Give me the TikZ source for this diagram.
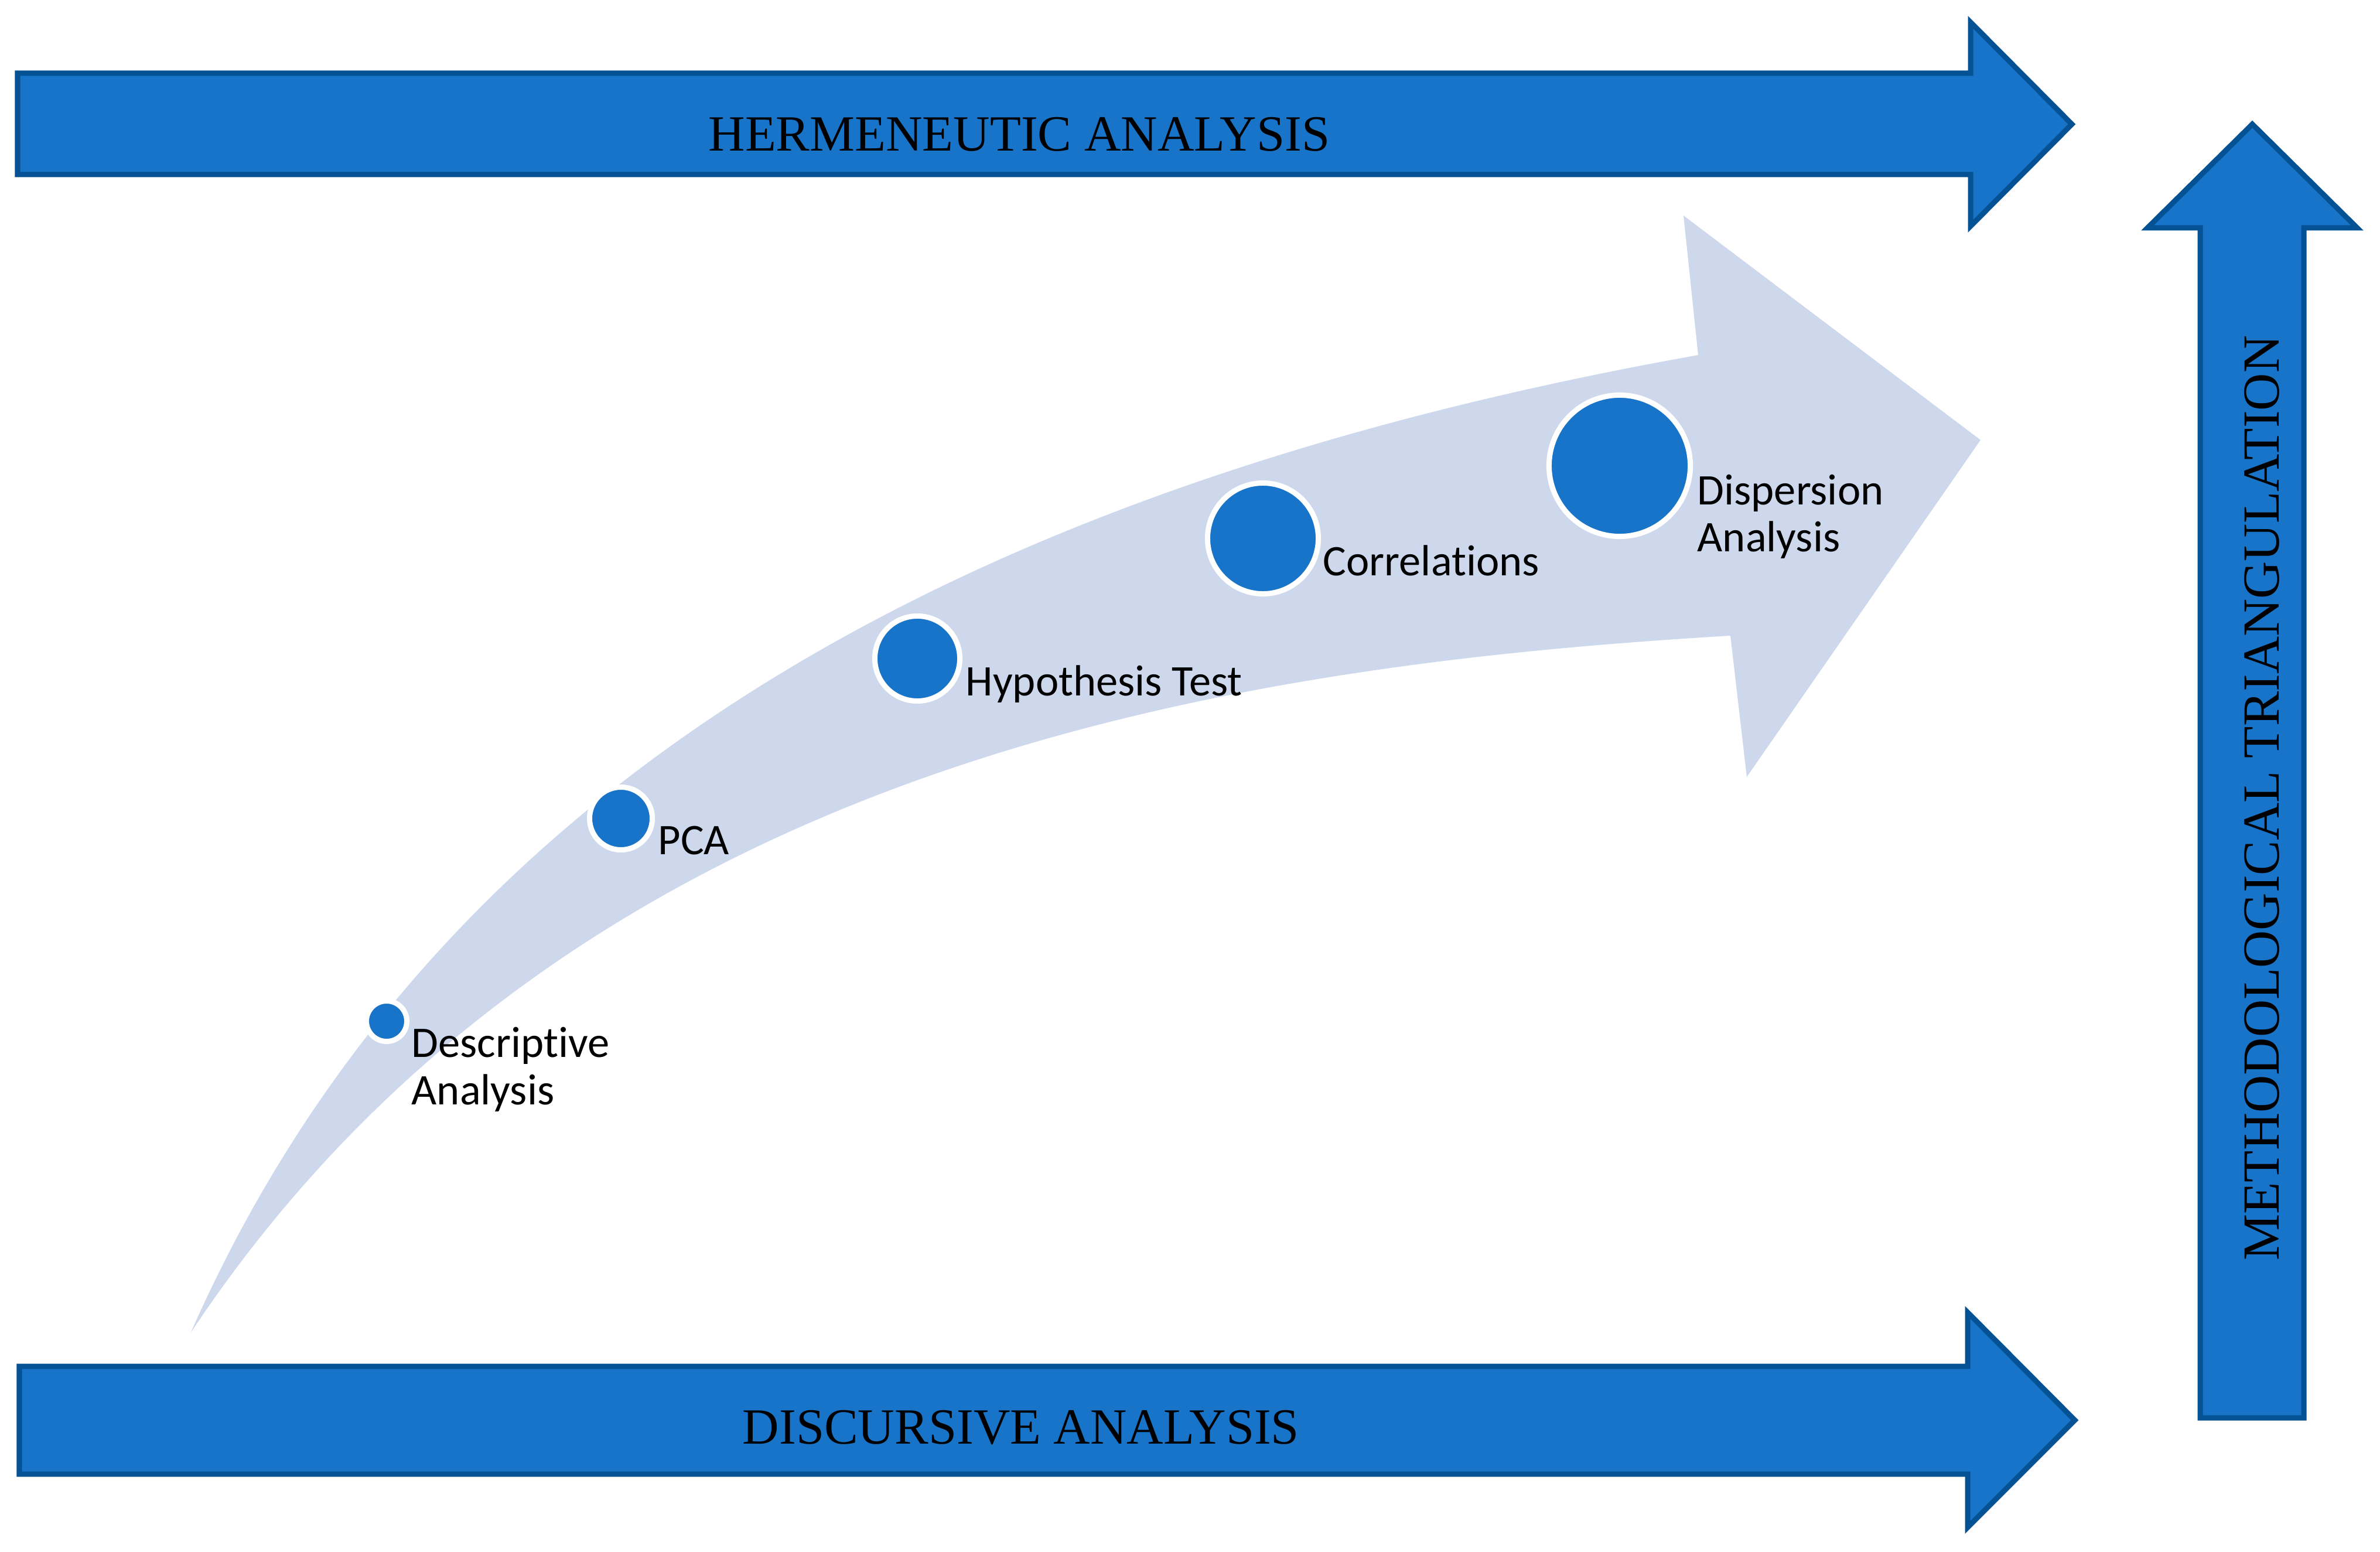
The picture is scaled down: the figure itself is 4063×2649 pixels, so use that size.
\documentclass[tikz,border=0pt]{standalone}
\usepackage{fontspec}
\setmainfont{Liberation Serif}
\newfontfamily\calibri[Ligatures=NoCommon]{Carlito}
\definecolor{arrowblue}{HTML}{1874C8}
\definecolor{arrowedge}{HTML}{045294}
\definecolor{lavender}{HTML}{CED8EC}
\begin{document}
\begin{tikzpicture}[x=0.01cm,y=-0.01cm,
  bigarrow/.style={fill=arrowblue,draw=arrowedge,line width=0.09cm,miter limit=20},
  dot/.style={circle,fill=arrowblue,draw=white,line width=0.09cm,inner sep=0pt},
  steplabel/.style={font=\calibri\fontsize{21.2}{23}\selectfont,anchor=base west,inner sep=0pt,align=left},
  biglabel/.style={font=\fontsize{24.6}{29}\selectfont,inner sep=0pt,anchor=base}]
\useasboundingbox (0,0) rectangle (4063,2649);
\fill[white] (0,0) rectangle (4063,2649);
% curved progression arrow
\fill[lavender] (326,2274) .. controls (755,1300) and (1700,820) .. (2899,606)
  -- (2874,368) -- (3381,751) -- (2982,1326) -- (2954,1085)
  .. controls (2120,1135) and (980,1290) .. (326,2274) -- cycle;
% dots
\node[dot,minimum size=0.69cm] (d1) at (660,1743) {};
\node[dot,minimum size=1.07cm] (d2) at (1060,1397) {};
\node[dot,minimum size=1.45cm] (d3) at (1566,1124) {};
\node[dot,minimum size=1.89cm] (d4) at (2156,919) {};
\node[dot,minimum size=2.41cm] (d5) at (2765,795) {};
% step labels (base anchor = baseline of last line)
\node[steplabel] (t1) at (702,1885) {Descriptive\\Analysis};
\node[steplabel] (t2) at (1123,1458) {PCA};
\node[steplabel] (t3) at (1648,1187) {Hypothesis Test};
\node[steplabel] (t4) at (2258,982) {Correlations};
\node[steplabel] (t5) at (2897,942) {Dispersion\\Analysis};
% top arrow
\draw[bigarrow] (30,125) -- (3364,125) -- (3364,38) -- (3537,212) -- (3364,386) -- (3364,298) -- (30,298) -- cycle;
\node[biglabel] (herm) at (1740,258) {HERMENEUTIC ANALYSIS};
% bottom arrow
\draw[bigarrow] (33,2332) -- (3359,2332) -- (3359,2240) -- (3542,2424) -- (3359,2607) -- (3359,2516) -- (33,2516) -- cycle;
\node[biglabel] (disc) at (1743,2464) {DISCURSIVE ANALYSIS};
% vertical arrow
\draw[bigarrow] (3756,2420) -- (3756,389) -- (3666,389) -- (3845,212) -- (4024,389) -- (3933,389) -- (3933,2420) -- cycle;
\node[biglabel,rotate=90,font=\fontsize{25.3}{29}\selectfont] (meth) at (3890,1362) {METHODOLOGICAL TRIANGULATION};
\end{tikzpicture}
\end{document}
